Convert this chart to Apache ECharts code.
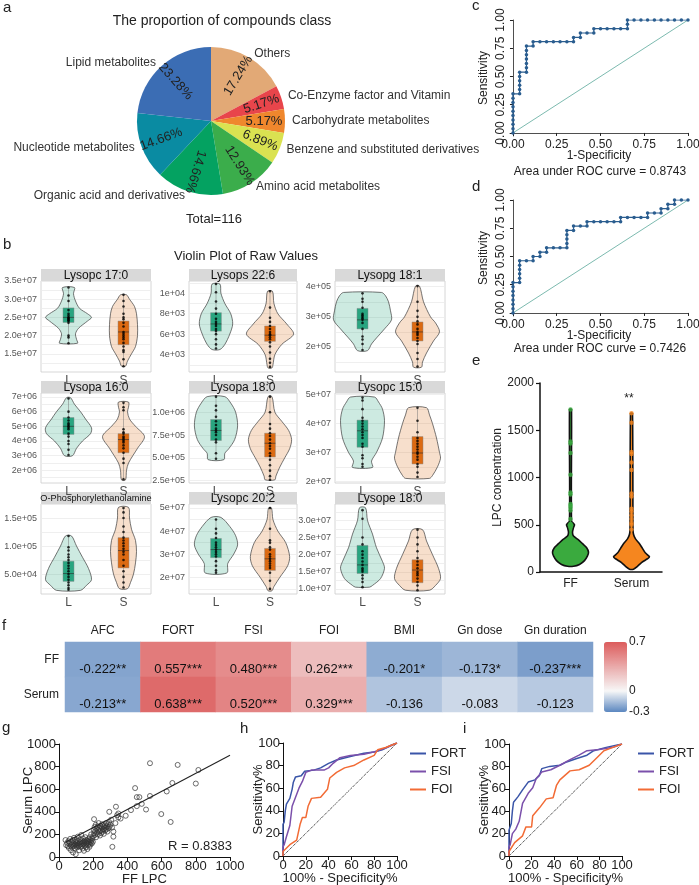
<!DOCTYPE html>
<html><head><meta charset="utf-8">
<script src="https://cdn.jsdelivr.net/npm/echarts@6/dist/echarts.min.js"></script>
<style>html,body{margin:0;padding:0;background:#fff}#c{width:699px;height:885px}</style>
</head><body><div id="c"></div>
<script>
// ================= DATA =================
// (a) pie
const pieNames = ['Others','Co-Enzyme factor and Vitamin','Carbohydrate metabolites','Benzene and substituted derivatives','Amino acid metabolites','Organic acid and derivatives','Nucleotide metabolites','Lipid metabolites'];
const pieCounts = [20,6,6,8,15,17,17,27];
const piePercents = ['17.24%','5.17%','5.17%','6.89%','12.93%','14.66%','14.66%','23.28%'];
const pieTotalText = 'Total=116';

// (b) violins
const vNames = ['Lysopc 17:0','Lysops 22:6','Lysopg 18:1','Lysopa 16:0','Lysopa 18:0','Lysopc 15:0','O-Phosphorylethanolamine','Lysopc 20:2','Lysope 18:0'];
const vCats = ['L','S'];
const vMin = [1.0e7, 2.3e3, 1.17e5, 1.14e6, 2.25e5, 1.94e7, 1.45e4, 1.28e7, 0.85e7];
const vMax = [3.5e7, 1.12e4, 4.19e5, 7.27e6, 1.21e6, 5.06e7, 1.75e5, 5.17e7, 3.48e7];
const vTicks = [
  [1.5e7,2.0e7,2.5e7,3.0e7,3.5e7],
  [4e3,6e3,8e3,1e4],
  [2e5,3e5,4e5],
  [2e6,3e6,4e6,5e6,6e6,7e6],
  [2.5e5,5e5,7.5e5,1e6],
  [2e7,3e7,4e7,5e7],
  [5e4,1e5,1.5e5],
  [2e7,3e7,4e7,5e7],
  [1e7,1.5e7,2e7,2.5e7,3e7]
];
const vTickLabels = [
  ['1.5e+07','2.0e+07','2.5e+07','3.0e+07','3.5e+07'],
  ['4e+03','6e+03','8e+03','1e+04'],
  ['2e+05','3e+05','4e+05'],
  ['2e+06','3e+06','4e+06','5e+06','6e+06','7e+06'],
  ['2.5e+05','5.0e+05','7.5e+05','1.0e+06'],
  ['2e+07','3e+07','4e+07','5e+07'],
  ['5.0e+04','1.0e+05','1.5e+05'],
  ['2e+07','3e+07','4e+07','5e+07'],
  ['1.0e+07','1.5e+07','2.0e+07','2.5e+07','3.0e+07']
];
// violin density profiles [value, density]
const vProfL = [
  [[1.79e7,9],[1.9e7,8],[2.05e7,7],[2.2e7,10],[2.4e7,19],[2.5e7,23],[2.6e7,19],[2.75e7,11],[2.95e7,7],[3.15e7,5],[3.32e7,6]],
  [[4.5e3,4],[5e3,9],[6e3,14],[7e3,17],[8e3,15],[9e3,9],[1e4,5],[1.09e4,4]],
  [[1.88e5,5],[2.1e5,9],[2.3e5,14],[2.6e5,22],[2.9e5,29],[3.2e5,28],[3.5e5,26],[3.7e5,23],[3.81e5,19]],
  [[3.0e6,4],[3.5e6,8],[4.0e6,14],[4.5e6,22],[4.9e6,23],[5.5e6,17],[6.0e6,12],[6.5e6,6],[6.95e6,2]],
  [[4.8e5,8],[5.5e5,9],[6.0e5,13],[7.0e5,19],[8.5e5,22],[1.0e6,20],[1.1e6,15],[1.17e6,9]],
  [[2.48e7,10],[2.7e7,9],[3.0e7,14],[3.5e7,20],[4.1e7,22],[4.5e7,20],[4.75e7,16],[4.92e7,12]],
  [[2.1e4,12],[3.0e4,18],[4.0e4,23],[6.0e4,20],[8.0e4,14],[1.0e5,8],[1.18e5,3]],
  [[2.19e7,11],[2.6e7,12],[3.0e7,18],[3.4e7,22],[3.8e7,20],[4.2e7,14],[4.59e7,5]],
  [[1.05e7,7],[1.1e7,10],[1.3e7,18],[1.6e7,22],[1.8e7,20],[2.2e7,14],[2.6e7,10],[3.0e7,5],[3.37e7,3]]
];
const vProfS = [
  [[1.16e7,2],[1.3e7,4],[1.5e7,8],[1.7e7,12],[2.0e7,14],[2.3e7,14],[2.6e7,13],[2.8e7,11],[3.0e7,6],[3.12e7,3]],
  [[2.7e3,2],[3e3,3],[4e3,5],[5e3,12],[6e3,24],[7e3,17],[8e3,8],[9e3,4],[1.02e4,2.5]],
  [[1.33e5,4],[1.5e5,5],[1.8e5,9],[2.2e5,16],[2.5e5,22],[2.8e5,18],[3.0e5,13],[3.5e5,6],[4.02e5,2]],
  [[1.35e6,2],[2.0e6,3],[2.5e6,5],[3.5e6,14],[4.3e6,21],[5.0e6,12],[5.5e6,6],[6.0e6,4],[6.3e6,5],[6.65e6,5]],
  [[2.6e5,5],[3.0e5,6],[4.0e5,10],[5.0e5,15],[6.0e5,20],[7.0e5,22],[8.0e5,19],[9.0e5,12],[1.0e6,5],[1.17e6,2]],
  [[2.1e7,12],[2.2e7,15],[2.5e7,20],[2.8e7,23],[3.0e7,22],[3.5e7,19],[4.0e7,15],[4.3e7,12],[4.55e7,9]],
  [[2.4e4,4],[3.5e4,7],[5.0e4,10],[7.0e4,12],[9.0e4,13],[1.1e5,12],[1.3e5,8],[1.5e5,6],[1.69e5,5]],
  [[1.42e7,2],[1.6e7,4],[2.0e7,10],[2.5e7,18],[2.9e7,20],[3.5e7,16],[4.0e7,8],[4.5e7,3],[5.0e7,1.5]],
  [[0.96e7,12],[1.1e7,18],[1.3e7,23],[1.6e7,21],[2.0e7,15],[2.4e7,9],[2.73e7,5]]
];
// box [q1, median, q3]
const vBoxL = [[2.36e7,2.5e7,2.76e7],[6.3e3,7e3,8.1e3],[2.6e5,2.9e5,3.28e5],[4.45e6,5e6,5.6e6],[6.9e5,8e5,9.2e5],[3.18e7,3.75e7,4.12e7],[3.7e4,5.1e4,7.3e4],[2.85e7,3.2e7,3.68e7],[1.45e7,1.7e7,2.27e7]];
const vBoxS = [[1.75e7,2.1e7,2.4e7],[5.3e3,5.9e3,6.8e3],[2.2e5,2.5e5,2.83e5],[3.2e6,4.1e6,4.5e6],[5.1e5,6.6e5,7.7e5],[2.6e7,2.98e7,3.55e7],[6.1e4,9.2e4,1.15e5],[2.3e7,2.8e7,3.25e7],[1.18e7,1.55e7,1.85e7]];
const vPtsL = [
  [3.32e7,3.1e7,2.95e7,2.7e7,2.6e7,2.55e7,2.5e7,2.48e7,2.45e7,2.42e7,2.4e7,2.35e7,2.0e7,1.95e7,1.79e7],
  [1.09e4,1.01e4,9.2e3,8.5e3,8e3,7.5e3,7.2e3,7e3,6.8e3,6.5e3,6.3e3,6e3,5.5e3,5e3,4.6e3],
  [3.78e5,3.6e5,3.5e5,3.3e5,3.1e5,3.05e5,3e5,2.95e5,2.9e5,2.8e5,2.6e5,2.35e5,2.25e5,2.1e5,1.9e5],
  [6.9e6,6.0e6,5.6e6,5.4e6,5.2e6,5.1e6,5e6,4.9e6,4.8e6,4.5e6,4.3e6,4.0e6,3.8e6,3.4e6,3.05e6],
  [1.17e6,1.07e6,1.02e6,9.5e5,9e5,8.6e5,8.2e5,8e5,7.8e5,7.5e5,7e5,6.7e5,5.5e5,4.9e5],
  [4.9e7,4.8e7,4.5e7,4.2e7,4.1e7,4e7,3.9e7,3.8e7,3.7e7,3.6e7,3.5e7,3.3e7,3.2e7,2.9e7,2.8e7,2.6e7,2.5e7],
  [1.18e5,9.8e4,9.2e4,8.5e4,8e4,7.5e4,7e4,6.5e4,6e4,5.5e4,5e4,4.5e4,4e4,3.5e4,3e4,2.5e4,2.2e4],
  [4.5e7,4.1e7,3.9e7,3.7e7,3.5e7,3.4e7,3.3e7,3.2e7,3.1e7,3.0e7,2.9e7,2.7e7,2.5e7,2.3e7,2.2e7],
  [3.3e7,3.05e7,2.5e7,2.3e7,2.1e7,2.0e7,1.9e7,1.8e7,1.7e7,1.6e7,1.55e7,1.5e7,1.4e7,1.3e7,1.2e7,1.05e7]
];
const vPtsS = [
  [3.12e7,2.95e7,2.8e7,2.6e7,2.5e7,2.45e7,2.35e7,2.25e7,2.1e7,2.05e7,2.0e7,1.95e7,1.9e7,1.8e7,1.7e7,1.6e7,1.55e7,1.35e7,1.16e7],
  [1.02e4,8.6e3,7.6e3,7.2e3,6.8e3,6.5e3,6.2e3,6e3,5.9e3,5.7e3,5.5e3,5.2e3,4.8e3,4.2e3,3.6e3,3.2e3,2.8e3],
  [4.02e5,3.5e5,3.2e5,3e5,2.85e5,2.75e5,2.6e5,2.5e5,2.45e5,2.4e5,2.3e5,2.2e5,2.1e5,1.8e5,1.6e5,1.35e5],
  [6.6e6,6.3e6,6.1e6,4.8e6,4.6e6,4.5e6,4.3e6,4.2e6,4.1e6,4.0e6,3.9e6,3.7e6,3.5e6,3.2e6,2.8e6,2.5e6,1.4e6],
  [1.17e6,1.0e6,8.7e5,8.2e5,7.7e5,7.4e5,7e5,6.6e5,6.3e5,6e5,5.5e5,5.2e5,4.8e5,4.2e5,3.6e5,3e5,2.6e5],
  [4.55e7,4.1e7,3.7e7,3.5e7,3.4e7,3.3e7,3.2e7,3.1e7,3e7,2.95e7,2.85e7,2.75e7,2.6e7,2.5e7,2.3e7,2.15e7],
  [1.68e5,1.6e5,1.5e5,1.35e5,1.25e5,1.15e5,1.1e5,1.05e5,1e5,9.5e4,9e4,8.5e4,7.5e4,6.5e4,5.5e4,4.5e4,3.5e4,2.6e4],
  [5e7,4.1e7,3.6e7,3.5e7,3.3e7,3.2e7,3.0e7,2.9e7,2.8e7,2.7e7,2.6e7,2.5e7,2.4e7,2.2e7,1.85e7,1.5e7],
  [2.73e7,2.5e7,2.3e7,2.1e7,1.9e7,1.8e7,1.7e7,1.6e7,1.5e7,1.45e7,1.4e7,1.3e7,1.2e7,1.1e7,0.96e7]
];

// (c) and (d) ROC
const rocC = [[0,0],[0,.038],[0,.077],[0,.115],[0,.154],[0,.192],[0,.231],[0,.269],[0,.308],[0,.346],
  [.038,.346],[.038,.385],[.038,.423],[.038,.462],[.038,.5],[.038,.538],
  [.077,.538],[.077,.577],[.077,.615],[.077,.654],[.077,.692],[.077,.731],[.077,.769],
  [.115,.769],[.115,.808],[.154,.808],[.192,.808],[.231,.808],[.269,.808],[.308,.808],[.346,.808],
  [.346,.846],[.385,.846],[.385,.885],[.423,.885],[.462,.885],[.462,.923],
  [.5,.923],[.538,.923],[.577,.923],[.615,.923],[.654,.923],[.654,.962],[.654,1],
  [.692,1],[.731,1],[.769,1],[.808,1],[.846,1],[.885,1],[.923,1],[.962,1],[1,1]];
const rocD = [[0,0],[0,.038],[0,.077],[0,.115],[0,.154],[0,.192],[0,.231],[0,.269],
  [.038,.269],[.038,.308],[.038,.346],[.038,.385],[.038,.423],[.038,.462],
  [.077,.462],[.115,.462],[.115,.5],[.154,.5],[.154,.538],[.192,.538],[.192,.577],
  [.231,.577],[.269,.577],[.308,.577],[.308,.615],[.308,.654],[.308,.692],[.308,.731],
  [.346,.731],[.346,.769],[.385,.769],[.423,.769],[.423,.808],
  [.462,.808],[.5,.808],[.538,.808],[.577,.808],[.615,.808],[.615,.846],
  [.654,.846],[.692,.846],[.731,.846],[.769,.846],[.769,.885],
  [.808,.885],[.846,.885],[.846,.923],[.885,.923],[.885,.962],[.923,.962],[.923,1],[.962,1],[1,1]];
const rocDiag = [[0,0],[1,1]];
const rocTicks = [0,0.25,0.5,0.75,1];
const aucC = 'Area under ROC curve = 0.8743';
const aucD = 'Area under ROC curve = 0.7426';

// (e) LPC concentration
const eCats = ['FF','Serum'];
const eProfFF = [[60,3],[80,9],[120,14],[170,17],[210,18],[260,16],[300,12],[340,8],[380,3],[420,2],[470,3],[500,4],[540,1],[1720,1]];
const eProfSerum = [[30,2],[60,6],[100,10],[140,16],[160,18],[200,14],[250,11],[300,8],[350,4],[400,2],[450,1.5],[1680,1]];
const ePtsFF = [1720,1380,1360,1260,1030,840,820,720,700,680,650,560,510,500,490,480];
const ePtsSerum = [1680,1580,1270,1250,1160,1080,830,800,670,640,600,560,520,500,450];

// (f) correlation heatmap
const fCols = ['AFC','FORT','FSI','FOI','BMI','Gn dose','Gn duration'];
const fRows = ['Serum','FF'];
const fFF = [-0.222,0.557,0.480,0.262,-0.201,-0.173,-0.237];
const fSerum = [-0.213,0.638,0.520,0.329,-0.136,-0.083,-0.123];
const fStarsFF = ['**','***','***','***','*','*','***'];
const fStarsSerum = ['**','***','***','***','','',''];
const fScaleTicks = [-0.3,0,0.7];

// (g) scatter
const gPoints = [[38,150],[42,105],[48,125],[52,95],[55,140],[58,80],[62,115],[65,160],[68,100],[70,60],[72,130],[75,90],[78,110],[80,150],[82,40],[84,120],[86,95],[88,170],[90,105],[92,75],[94,135],[96,115],[98,25],[100,100],[102,150],[104,125],[106,85],[108,110],[110,180],[112,140],[114,95],[116,120],[118,60],[120,105],[122,155],[124,130],[126,90],[128,115],[130,195],[132,140],[134,100],[136,125],[138,75],[140,165],[142,110],[144,135],[146,55],[148,120],[150,145],[152,100],[154,175],[156,130],[158,85],[160,115],[162,150],[164,125],[166,70],[168,140],[170,105],[172,160],[174,120],[176,135],[178,90],[180,175],[182,150],[184,110],[186,130],[188,200],[190,145],[192,120],[195,165],[198,135],
  [200,185],[203,240],[205,210],[208,265],[210,195],[212,230],[215,285],[217,175],[220,250],[222,215],[225,270],[227,200],[230,240],[232,300],[235,225],[237,255],[240,190],[242,275],[245,235],[247,210],[250,260],[252,290],[255,225],[257,245],[260,270],[262,205],[265,250],[268,280],[270,235],[273,260],[275,300],[278,245],[280,270],[283,225],[286,290],[290,255],[293,310],[296,270],[300,285],[305,330],
  [205,335],[294,400],[312,90],[318,180],[318,225],[333,445],[347,385],[347,350],[390,365],[421,415],[445,610],[455,530],[470,530],[455,450],[484,470],[509,420],[532,540],[532,830],[598,380],[630,580],[653,310],[663,655],[694,815],[800,650],[815,770],[340,370],[360,340],[330,300],[310,260]];
const gLine = [[40,132],[1000,900]];
const gRText = 'R = 0.8383';

// (h) and (i) ROC curves (%)
const hFORT = [[0,0],[0,28],[1,30],[2,40],[3,46],[6,51],[8,59],[9,65],[11,70],[16,71],[19,75],[27,76],[33,78],[40,82],[47,85],[59,88],[71,91],[80,92],[87,94],[95,98],[100,100]];
const hFSI = [[0,0],[0,8],[1,10],[3,17],[6,27],[8,44],[11,52],[14,60],[17,66],[20,74],[25,76],[36,76],[40,78],[44,82],[50,87],[59,89],[71,90],[83,93],[91,96],[100,100]];
const hFOI = [[0,0],[0,4],[1,5],[6,10],[12,14],[15,28],[17,34],[20,34],[22,44],[25,51],[33,52],[39,59],[41,69],[47,74],[54,78],[62,80],[71,85],[80,89],[83,94],[90,96],[100,100]];
const iFORT = [[0,0],[0,23],[2,29],[3,40],[4,48],[8,53],[12,59],[17,66],[23,68],[27,72],[29,78],[36,80],[45,81],[51,84],[60,87],[69,90],[75,94],[86,97],[100,100]];
const iFSI = [[0,0],[0,8],[1,10],[3,20],[6,24],[9,31],[12,47],[17,56],[21,61],[24,69],[29,75],[37,77],[45,81],[54,86],[62,90],[69,94],[80,95],[92,97],[100,100]];
const iFOI = [[0,0],[0,4],[1,5],[5,12],[12,18],[15,26],[20,26],[21,36],[27,43],[33,51],[39,52],[42,63],[45,68],[54,76],[62,77],[71,81],[78,88],[84,94],[92,97],[100,100]];
const pctDiag = [[0,0],[100,100]];
const rocNames = ['FORT','FSI','FOI'];

// ================= STYLE / LAYOUT =================
const FONT = '"Liberation Sans", Arial, Helvetica, sans-serif';
const TXT = '#222';
const PIE_C = [211,121];
const PIE_R = 74;
const PIE_LABEL_R = 53;
const pieColors = ['#E2A976','#E8454B','#EF872D','#DAE251','#3BAD4B','#04A261','#0A8BA2','#3B6DB4'];
const VCOLS = [[41,110],[189,108],[335,110]];
const VROWS = [[281,91],[393,90],[504,90]];
const violinFill = ['rgba(27,158,119,0.22)','rgba(217,95,2,0.2)'];
const boxFill = ['#1B9E77','#D95F02'];
const rocColors = ['#3A55A8','#7B50AB','#F26B35'];
const ePtColors = ['#3AAA3E','#F5861F'];
const plainNum = v => String(v);

// mid-angle (deg, counter-clockwise from +x) of each slice, used to orient the percent labels radially
const pieTotal = pieCounts.reduce((a,b)=>a+b,0);
const pieMid = []; { let acc=0; pieCounts.forEach(v=>{ pieMid.push(90 - 360*(acc+v/2)/pieTotal); acc+=v; }); }

function mixColor(a,b,t){
  const pa=[1,3,5].map(i=>parseInt(a.substr(i,2),16)), pb=[1,3,5].map(i=>parseInt(b.substr(i,2),16));
  return 'rgb('+pa.map((v,i)=>Math.round(v+(pb[i]-v)*t)).join(',')+')';
}
const cBlue='#5B87C0', cWhite='#F7F7F7', cRed='#DC5C5C';
const scaleStops=[];
for(let k=0;k<=10;k++){ const v=-0.3+k*0.1; scaleStops.push(v<0? mixColor(cBlue,cWhite,(v+0.3)/0.3) : mixColor(cWhite,cRed,v/0.7)); }

const grids=[], xAxes=[], yAxes=[], series=[], graphics=[];
function txt(text,x,y,size,align,color){
  return {type:'text',x:x,y:y,silent:true,z:100,style:{text:text,fill:color||TXT,font:size+'px '+FONT,textAlign:align||'center',textVerticalAlign:'middle'}};
}

// ---------- violins ----------
for(let p=0;p<9;p++){
  const r=Math.floor(p/3), c=p%3;
  const L=VCOLS[c][0], W=VCOLS[c][1], T=VROWS[r][0], H=VROWS[r][1];
  grids.push({left:L,top:T,width:W,height:H,show:true,borderColor:'#cccccc',borderWidth:0.8,backgroundColor:'#fff',outerBoundsMode:'none'});
  const maj=vTicks[p], step=maj[1]-maj[0];
  const gv=[];
  for(let k=-2;k<=maj.length*2+2;k++){ const v=maj[0]+k*step/2; if(v>=vMin[p]-1e-9*step && v<=vMax[p]+1e-9*step) gv.push(v); }
  xAxes.push({gridIndex:p,type:'category',data:vCats,axisLine:{show:false},axisTick:{show:false},
    axisLabel:{fontSize:12,color:'#4d4d4d',margin:3},splitLine:{show:false}});
  yAxes.push({gridIndex:p,type:'value',min:vMin[p],max:vMax[p],axisLine:{show:false},
    axisTick:{show:false,customValues:gv},
    axisLabel:{fontSize:9,color:'#555',margin:4,customValues:maj,
      formatter:(v)=>{const i=maj.findIndex(m=>Math.abs(m-v)<step*1e-3);return i>=0?vTickLabels[p][i]:'';}},
    splitLine:{show:true,lineStyle:{color:'#ebebeb',width:0.8}}});
  graphics.push({type:'rect',silent:true,shape:{x:L,y:T-12,width:W,height:12},style:{fill:'#d9d9d9'}});
  graphics.push(txt(vNames[p],L+W/2,T-5.5,p===6?9.2:12,'center','#111'));
  const profs=[vProfL[p],vProfS[p]], boxes=[vBoxL[p],vBoxS[p]], pts=[vPtsL[p],vPtsS[p]];
  series.push({type:'custom',xAxisIndex:p,yAxisIndex:p,z:1,silent:true,data:[[0,boxes[0][1]],[1,boxes[1][1]]],
    renderItem:(params,api)=>{
      const k=params.dataIndex, prof=profs[k], cat=api.value(0);
      const cx=api.coord([cat,prof[0][0]])[0];
      const s=api.size([1,0])[0]/55;
      const right=prof.map(d=>[cx+d[1]*s,api.coord([cat,d[0]])[1]]);
      const left=prof.slice().reverse().map(d=>[cx-d[1]*s,api.coord([cat,d[0]])[1]]);
      return {type:'polygon',shape:{points:right.concat(left),smooth:0.3},style:{fill:violinFill[k],stroke:'#3c3c3c',lineWidth:0.7}};
    }});
  series.push({type:'custom',xAxisIndex:p,yAxisIndex:p,z:2,silent:true,data:[[0,boxes[0][1]],[1,boxes[1][1]]],
    renderItem:(params,api)=>{
      const k=params.dataIndex, b=boxes[k], cat=api.value(0), pt=pts[k];
      const s=api.size([1,0])[0]/55, hw=5.5*s;
      const lo=api.coord([cat,Math.min.apply(null,pt)]), hi=api.coord([cat,Math.max.apply(null,pt)]);
      const q1=api.coord([cat,b[0]]), md=api.coord([cat,b[1]]), q3=api.coord([cat,b[2]]);
      return {type:'group',children:[
        {type:'line',shape:{x1:lo[0],y1:lo[1],x2:hi[0],y2:hi[1]},style:{stroke:'#777',lineWidth:0.5}},
        {type:'rect',shape:{x:q1[0]-hw,y:q3[1],width:2*hw,height:q1[1]-q3[1]},style:{fill:boxFill[k],opacity:0.92,stroke:'#8a8a8a',lineWidth:0.5}},
        {type:'line',shape:{x1:md[0]-hw,y1:md[1],x2:md[0]+hw,y2:md[1]},style:{stroke:'#2a2a2a',lineWidth:0.6}}
      ]};
    }});
  series.push({type:'scatter',xAxisIndex:p,yAxisIndex:p,z:3,silent:true,symbolSize:2.6,itemStyle:{color:'#000'},
    data:pts[0].map(v=>[0,v]).concat(pts[1].map(v=>[1,v]))});
}

// ---------- (c) & (d) ----------
function rocAxes(gi,top,curve){
  grids.push({left:510,top:top,width:178,height:116,outerBoundsMode:'none'});
  xAxes.push({gridIndex:gi,type:'value',min:-0.017,max:1,
    axisLine:{show:true,lineStyle:{color:TXT,width:0.8}},
    axisTick:{show:true,length:3,customValues:rocTicks,lineStyle:{color:TXT}},
    axisLabel:{customValues:rocTicks,formatter:v=>v.toFixed(2),fontSize:12,color:TXT,margin:3},
    splitLine:{show:false},name:'1-Specificity',nameLocation:'middle',nameGap:14,nameMoveOverlap:false,nameTextStyle:{fontSize:12,color:TXT}});
  yAxes.push({gridIndex:gi,type:'value',min:-0.027,max:1,
    axisLine:{show:true,lineStyle:{color:TXT,width:0.8}},
    axisTick:{show:true,length:3,customValues:rocTicks,lineStyle:{color:TXT}},
    axisLabel:{customValues:rocTicks,formatter:v=>v.toFixed(2),fontSize:12,color:TXT,margin:3,rotate:90},
    splitLine:{show:false},name:'Sensitivity',nameLocation:'middle',nameGap:20,nameMoveOverlap:false,nameTextStyle:{fontSize:12,color:TXT}});
  series.push({type:'line',xAxisIndex:gi,yAxisIndex:gi,data:rocDiag,symbol:'none',silent:true,lineStyle:{color:'#5BA89A',width:0.8}});
  series.push({type:'line',xAxisIndex:gi,yAxisIndex:gi,data:curve,symbol:'circle',symbolSize:3.5,silent:true,
    lineStyle:{color:'#2A5D8F',width:1.2},itemStyle:{color:'#2A5D8F'}});
}
rocAxes(9,20,rocC);
rocAxes(10,200,rocD);

// ---------- (e) ----------
grids.push({left:540,top:383,width:122,height:189,outerBoundsMode:'none'});
xAxes.push({gridIndex:11,type:'category',data:eCats,axisLine:{show:true,lineStyle:{color:'#111',width:1.5}},axisTick:{show:false},
  axisLabel:{fontSize:12,color:TXT,margin:6},splitLine:{show:false}});
yAxes.push({gridIndex:11,type:'value',min:0,max:2000,interval:500,axisLine:{show:true,lineStyle:{color:'#111',width:1.5}},
  axisTick:{show:true,length:4,lineStyle:{color:'#111',width:1.2}},axisLabel:{fontSize:12,color:TXT,margin:6,formatter:plainNum},
  splitLine:{show:false},name:'LPC concentration',nameLocation:'middle',nameGap:36,nameMoveOverlap:false,nameTextStyle:{fontSize:12,color:TXT}});
const eProfs=[eProfFF,eProfSerum];
series.push({type:'custom',xAxisIndex:11,yAxisIndex:11,z:2,silent:true,data:[[0,0],[1,0]],
  renderItem:(params,api)=>{
    const k=params.dataIndex, prof=eProfs[k], cat=api.value(0);
    const cx=api.coord([cat,0])[0], s=api.size([1,0])[0]/61;
    const right=prof.map(d=>[cx+d[1]*s,api.coord([cat,d[0]])[1]]);
    const left=prof.slice().reverse().map(d=>[cx-d[1]*s,api.coord([cat,d[0]])[1]]);
    return {type:'polygon',shape:{points:right.concat(left),smooth:0.2},style:{fill:ePtColors[k],stroke:'#111',lineWidth:1.6}};
  }});
series.push({type:'scatter',xAxisIndex:11,yAxisIndex:11,z:3,silent:true,symbolSize:4.5,data:ePtsFF.map(v=>[0,v]),itemStyle:{color:ePtColors[0]}});
series.push({type:'scatter',xAxisIndex:11,yAxisIndex:11,z:3,silent:true,symbolSize:4.5,data:ePtsSerum.map(v=>[1,v]),itemStyle:{color:ePtColors[1]}});

// ---------- (f) heatmap ----------
grids.push({left:65,top:642,width:528,height:70,outerBoundsMode:'none'});
xAxes.push({gridIndex:12,type:'category',data:fCols,position:'top',axisLine:{show:false},axisTick:{show:false},
  axisLabel:{fontSize:12,color:TXT,margin:5,interval:0},splitLine:{show:false}});
yAxes.push({gridIndex:12,type:'category',data:fRows,axisLine:{show:false},axisTick:{show:false},
  axisLabel:{fontSize:12,color:TXT,margin:6,interval:0},splitLine:{show:false}});
const fData=[];
fCols.forEach((c,i)=>{fData.push([i,1,fFF[i]]);fData.push([i,0,fSerum[i]]);});
const hmIndex=series.length;
series.push({type:'heatmap',xAxisIndex:12,yAxisIndex:12,data:fData,silent:true,
  label:{show:true,fontSize:13,color:'#111',offset:[0,10],
    formatter:p=>p.value[2].toFixed(3)+(p.value[1]===1?fStarsFF[p.value[0]]:fStarsSerum[p.value[0]])}});
grids.push({left:604,top:642,width:23,height:70,outerBoundsMode:'none'});
xAxes.push({gridIndex:13,type:'value',show:false,min:0,max:1});
yAxes.push({gridIndex:13,type:'value',min:-0.3,max:0.7,position:'right',axisLine:{show:false},axisTick:{show:false},
  splitLine:{show:false},axisLabel:{customValues:fScaleTicks,fontSize:12,color:TXT,margin:2}});

// ---------- (g) ----------
function plainAxis(gi,max,interval,name,gap,fs){
  return {gridIndex:gi,type:'value',min:0,max:max,interval:interval,
    axisLine:{show:true,lineStyle:{color:'#111',width:1}},axisTick:{show:true,length:4,lineStyle:{color:'#111'}},
    axisLabel:{fontSize:fs,color:TXT,margin:3,formatter:plainNum},splitLine:{show:false},
    name:name,nameLocation:'middle',nameGap:gap,nameMoveOverlap:false,nameTextStyle:{fontSize:fs,color:TXT}};
}
grids.push({left:59,top:744,width:171,height:113,outerBoundsMode:'none'});
xAxes.push(plainAxis(14,1000,200,'FF LPC',16,13));
yAxes.push(plainAxis(14,1000,200,'Serum LPC',24,13));
series.push({type:'scatter',xAxisIndex:14,yAxisIndex:14,data:gPoints,symbol:'circle',symbolSize:5,silent:true,
  itemStyle:{color:'rgba(255,255,255,0)',borderColor:'#333',borderWidth:0.9}});
series.push({type:'line',xAxisIndex:14,yAxisIndex:14,data:gLine,symbol:'none',silent:true,lineStyle:{color:'#222',width:1.1}});

// ---------- (h) & (i) ----------
function pctPanel(gi,left,top,w,h,curves){
  grids.push({left:left,top:top,width:w,height:h,outerBoundsMode:'none'});
  xAxes.push(plainAxis(gi,100,20,'100% - Specificity%',16,13));
  yAxes.push(plainAxis(gi,100,20,'Sensitivity%',18,13));
  series.push({type:'line',xAxisIndex:gi,yAxisIndex:gi,data:pctDiag,symbol:'none',silent:true,lineStyle:{color:'#111',width:1,type:'dotted'}});
  curves.forEach((cv,k)=>series.push({type:'line',name:rocNames[k],xAxisIndex:gi,yAxisIndex:gi,data:cv,symbol:'none',silent:true,
    lineStyle:{color:rocColors[k],width:1.5},itemStyle:{color:rocColors[k]}}));
}
pctPanel(15,283,743,114,113,[hFORT,hFSI,hFOI]);
pctPanel(16,509,744,113,112,[iFORT,iFSI,iFOI]);

// ---------- (a) pie ----------
series.push({type:'pie',center:PIE_C,radius:PIE_R,startAngle:90,clockwise:true,silent:true,avoidLabelOverlap:false,
  data:pieNames.map((n,i)=>({name:n,value:pieCounts[i],itemStyle:{color:pieColors[i]}})),
  label:{show:true,position:'inside',fontSize:13,color:'#222',formatter:p=>piePercents[p.dataIndex]},
  labelLine:{show:false},
  labelLayout:(params)=>{
    const deg=pieMid[params.dataIndex], a=deg*Math.PI/180;
    const rot=(deg>90||deg<-120)?deg+180:deg;
    return {x:PIE_C[0]+Math.cos(a)*PIE_LABEL_R, y:PIE_C[1]-Math.sin(a)*PIE_LABEL_R, rotate:rot,
      align:'center', verticalAlign:'middle', hideOverlap:false};
  }});
series.push({type:'pie',center:PIE_C,radius:PIE_R,startAngle:90,clockwise:true,silent:true,avoidLabelOverlap:false,
  data:pieNames.map((n,i)=>({name:n,value:pieCounts[i]})),itemStyle:{color:'rgba(0,0,0,0)'},
  label:{show:true,position:'outside',formatter:'{b}',fontSize:12,color:'#333',distanceToLabelLine:2},
  labelLine:{show:false,length:4,length2:1}});

// ---------- texts ----------
graphics.push(txt('a',3,8,15,'left'));
graphics.push(txt('The proportion of compounds class',222,21,14));
graphics.push(txt(pieTotalText,214,219,13));
graphics.push(txt('b',3,245,15,'left'));
graphics.push(txt('Violin Plot of Raw Values',246,256,13));
graphics.push(txt('c',472,6,15,'left'));
graphics.push(txt(aucC,600,172,12));
graphics.push(txt('d',472,187,15,'left'));
graphics.push(txt(aucD,600,349,12));
graphics.push(txt('e',472,361,15,'left'));
graphics.push(txt('**',629,399,12));
graphics.push(txt('f',2,626,15,'left'));
graphics.push(txt('g',2,728,15,'left'));
graphics.push(txt(gRText,200,846,13));
graphics.push(txt('h',240,729,15,'left'));
graphics.push(txt('i',463,729,15,'left'));

const option={
  animation:false,
  backgroundColor:'#fff',
  textStyle:{fontFamily:FONT},
  grid:grids, xAxis:xAxes, yAxis:yAxes,
  visualMap:{type:'continuous',seriesIndex:hmIndex,min:-0.3,max:0.7,left:604,top:642,itemWidth:23,itemHeight:70,
    calculable:false,padding:0,inRange:{color:scaleStops},text:null,showLabel:false},
  legend:[
    {left:405,top:742,orient:'vertical',itemWidth:16,itemHeight:2,itemGap:5,icon:'rect',data:rocNames,textStyle:{fontSize:13,color:TXT},selectedMode:false},
    {left:633,top:742,orient:'vertical',itemWidth:16,itemHeight:2,itemGap:5,icon:'rect',data:rocNames,textStyle:{fontSize:13,color:TXT},selectedMode:false}
  ],
  graphic:graphics,
  series:series
};
const chart=echarts.init(document.getElementById('c'),null,{renderer:'canvas',width:699,height:885});
chart.setOption(option);
</script></body></html>
